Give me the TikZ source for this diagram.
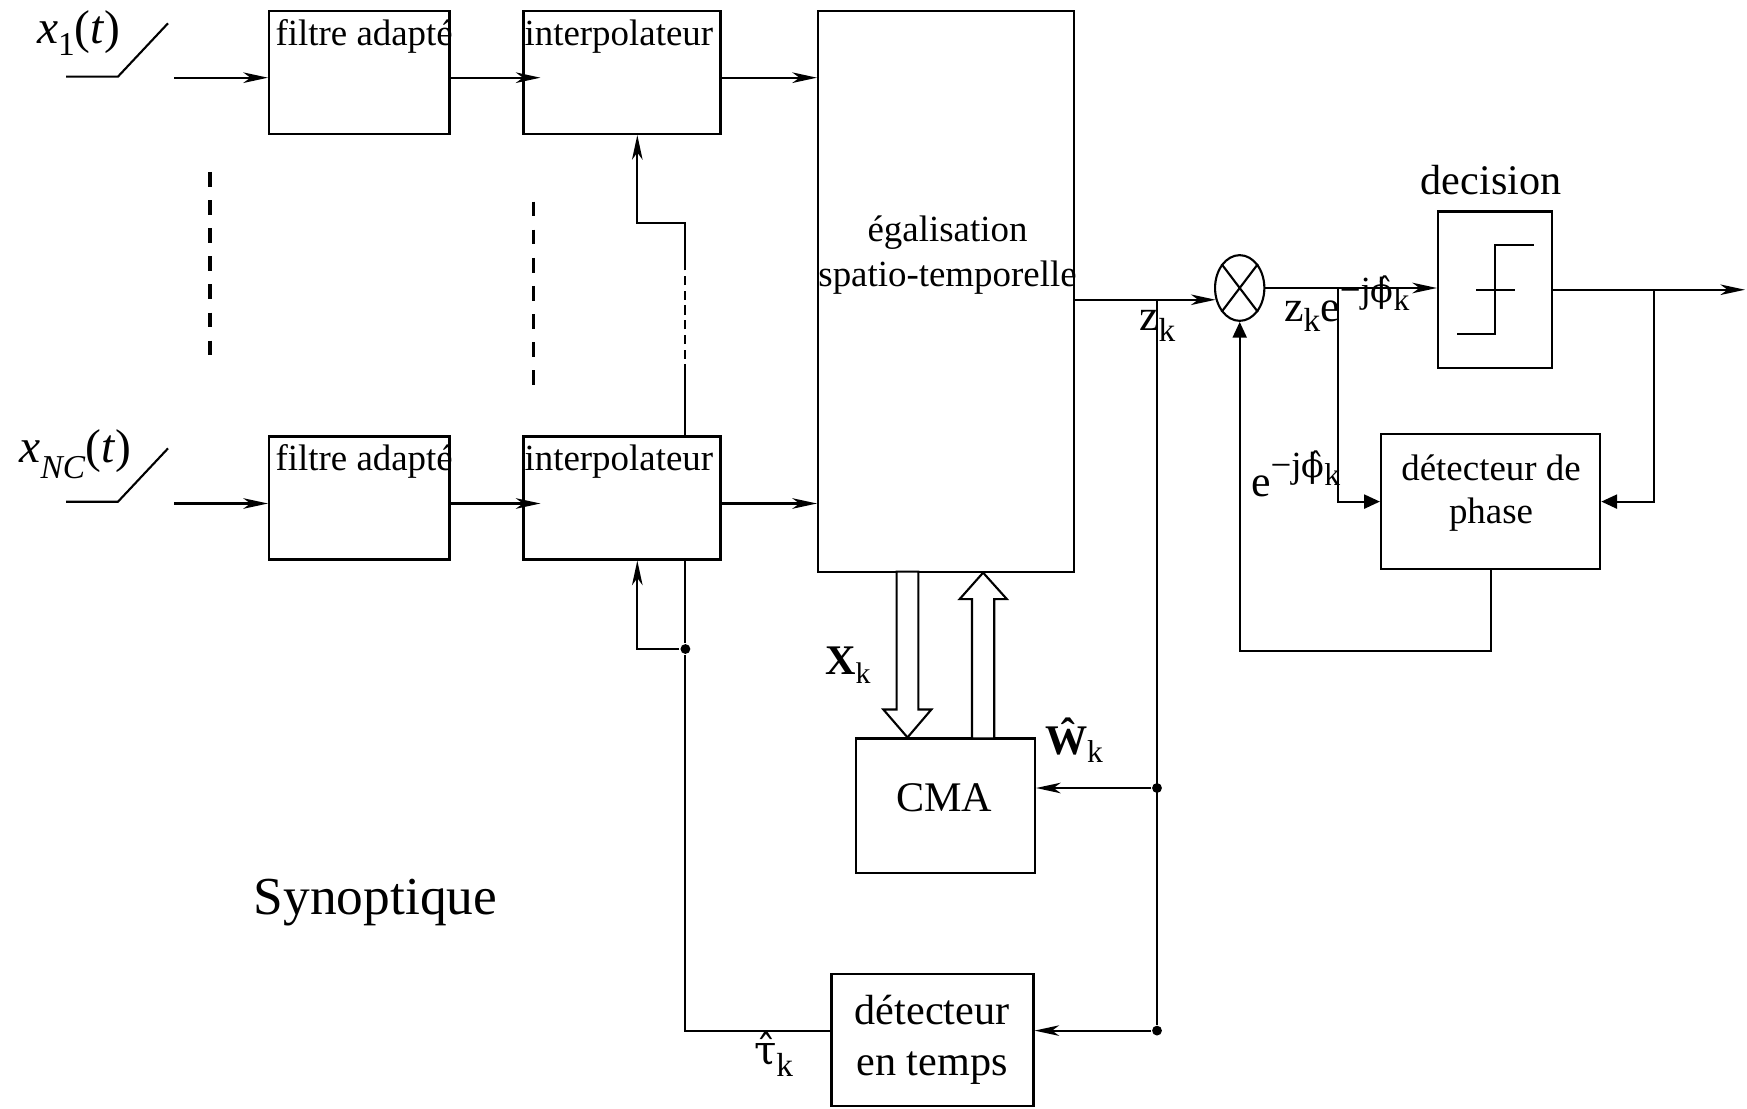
\documentclass[tikz,border=0pt]{standalone}
\usepackage{fontspec}
\setmainfont{Liberation Serif}
\newfontfamily\grk{DejaVu Serif}
\usepackage{tikz}
\usetikzlibrary{
	arrows.meta,
	calc,
	positioning,
	shapes.geometric
}
\newcommand{\indk}[1]{\raisebox{#1}{\fontsize{9.5}{10}\selectfont k}}
\newcommand{\phase}{\raisebox{5.4pt}{\fontsize{10.5}{11}\selectfont −j{\grk\fontsize{9.5}{10}\selectfont\^{ϕ}}\raisebox{-2.2pt}{\fontsize{9}{10}\selectfont k}}}
\tikzset{
	box/.style={draw, inner sep=0pt},
	txt/.style={inner sep=0pt, font=\fontsize{10.5}{12.6}\selectfont},
	bigtxt/.style={inner sep=0pt, font=\fontsize{12}{14.4}\selectfont},
	sym/.style={inner sep=0pt, font=\fontsize{12.5}{15}\selectfont},
	arr/.style={-{Stealth[length=7pt,width=3pt,inset=2pt]}},
	tri/.style={-{Triangle[length=4.5pt,width=4pt]}},
	dot/.style={circle, fill, inner sep=0pt, minimum size=2.8pt},
	bigdash/.style={line width=1.1pt, dash pattern=on 4.2pt off 3.8pt},
	smalldash/.style={dash pattern=on 2.6pt off 1.6pt}
}

\begin{document}
\begin{tikzpicture}[line width=0.6pt]
			\useasboundingbox (0,0) rectangle (17.47,-11.09);

			\node[box, minimum width=1.805cm, minimum height=1.23cm] (fa1) at (3.5925,-0.725) {};
			\node[box, minimum width=1.805cm, minimum height=1.23cm] (fa2) at (3.5925,-4.98) {};
			\node[box, minimum width=1.97cm, minimum height=1.23cm] (ip1) at (6.22,-0.725) {};
			\node[box, minimum width=1.97cm, minimum height=1.23cm] (ip2) at (6.22,-4.98) {};
			\node[box, minimum width=2.56cm, minimum height=5.606cm] (eg) at (9.46,-2.913) {};
			\node[box, minimum width=1.794cm, minimum height=1.345cm] (cma) at (9.453,-8.0575) {};
			\node[box, minimum width=2.02cm, minimum height=1.324cm] (dt) at (9.325,-10.398) {};
			\node[box, minimum width=1.14cm, minimum height=1.565cm] (dec) at (14.95,-2.8975) {};
			\node[box, minimum width=2.193cm, minimum height=1.347cm] (dp) at (14.906,-5.016) {};
			\node[box, ellipse, minimum width=0.493cm, minimum height=0.657cm] (mult) at (12.397,-2.88) {};
			\draw (mult.north west) -- (mult.south east) (mult.north east) -- (mult.south west);

			\node[txt, anchor=base west] (fa1t) at (2.745,-0.451) {filtre adapté};
			\node[txt, anchor=base west] (fa2t) at (2.745,-4.706) {filtre adapté};
			\node[txt, anchor=base west] (ip1t) at (5.235,-0.451) {interpolateur};
			\node[txt, anchor=base west] (ip2t) at (5.235,-4.706) {interpolateur};
			\node[txt, anchor=base] (egt1) at (9.475,-2.42) {égalisation};
			\node[txt, anchor=base] (egt2) at (9.475,-2.867) {spatio-temporelle};
			\node[txt, anchor=base] (dpt1) at (14.91,-4.803) {détecteur de};
			\node[txt, anchor=base] (dpt2) at (14.91,-5.234) {phase};
			\node[bigtxt, anchor=base] (cmat) at (9.444,-8.114) {CMA};
			\node[bigtxt, anchor=base] (dtt1) at (9.32,-10.244) {détecteur};
			\node[bigtxt, anchor=base] (dtt2) at (9.32,-10.75) {en temps};
			\node[bigtxt, anchor=base] (dect) at (14.91,-1.947) {decision};
			\node[inner sep=0pt, anchor=base west, font=\fontsize{15.2}{18}\selectfont] (syn) at (2.527,-9.143) {Synoptique};

			\node[inner sep=0pt, anchor=base west, font=\fontsize{13.5}{16}\selectfont] (x1) at (0.36,-0.44) {\textit{x}\raisebox{-3.3pt}{\fontsize{9.5}{10}\selectfont 1}(\textit{t})};
			\node[inner sep=0pt, anchor=base west, font=\fontsize{13.5}{16}\selectfont] (xnc) at (0.185,-4.624) {\textit{x}\raisebox{-4.7pt}{\fontsize{9.5}{10}\selectfont\textit{NC}}(\textit{t})};
			\node[sym, anchor=base west] (zk) at (11.38,-3.308) {z\indk{-3.1pt}};
			\node[sym, anchor=base west] (zke) at (12.83,-3.217) {z\indk{-2.8pt}e\phase};
			\node[sym, anchor=base west] (ephi) at (12.50,-4.967) {e\phase};
			\node[bigtxt, anchor=base west] (xk) at (8.24,-6.74) {\textbf{X}\raisebox{-2.6pt}{\fontsize{8.5}{9}\selectfont k}};
			\node[bigtxt, anchor=base west] (wk) at (10.44,-7.54) {\textbf{Ŵ}\raisebox{-2.3pt}{\fontsize{9}{10}\selectfont k}};
			\node[sym, anchor=base west] (tauk) at (7.53,-10.64) {{\grk\fontsize{11.5}{14}\selectfont\^{τ}}\indk{-3.5pt}};

			\draw (0.66,-0.766) -- (1.18,-0.766) -- (1.68,-0.233);
			\draw (0.66,-5.017) -- (1.18,-5.017) -- (1.68,-4.484);
			\coordinate (in1) at (1.74,-0.777);
			\coordinate (in2) at (1.74,-5.035);
			\draw[arr] (in1) -- (in1 -| fa1.west);
			\draw[arr] (in2) -- (in2 -| fa2.west);
			\draw[arr] (in1 -| fa1.east) -- ($(in1 -| ip1.west)+(0.18,0)$);
			\draw[arr] (in2 -| fa2.east) -- ($(in2 -| ip2.west)+(0.18,0)$);
			\draw[arr] (in1 -| ip1.east) -- (in1 -| eg.west);
			\draw[arr] (in2 -| ip2.east) -- (in2 -| eg.west);

			\draw[bigdash] (2.10,-1.72) -- (2.10,-3.56);
			\draw[bigdash] (5.335,-2.016) -- (5.335,-3.855);

			\coordinate (up1) at (6.854,-3.736);
			\coordinate (up2) at (6.854,-2.68);
			\coordinate (up3) at (6.854,-2.23);
			\coordinate (up4) at (6.373,-2.23);
			\draw (ip2.north -| up1) -- (up1);
			\draw[smalldash] (up1) -- (up2);
			\draw[arr] (up2) -- (up3) -- (up4) -- (up4 |- ip1.south);

			\node[dot] (dtau) at (6.854,-6.49) {};
			\node[dot] (dcma) at (11.57,-7.88) {};
			\node[dot] (dtin) at (11.57,-10.306) {};
			\draw (ip2.south -| dtau) -- (dtau) -- (dtau |- dtin) -- (dtin -| dt.west);
			\draw[arr] (dtau) -- (dtau -| up4) -- (up4 |- ip2.south);

			\draw[arr] (eg.east |- mult.206) -- (mult.206);
			\draw (mult.206 -| dtin) -- (dtin);
			\draw[arr] (dcma) -- (dcma -| cma.east);
			\draw[arr] (dtin) -- (dtin -| dt.east);

			\coordinate (xa) at (9.075,-5.716);
			\coordinate (wa) at (9.831,-7.385);
			\draw[fill=white] ($(xa)+(-0.109,0)$) -- ($(xa |- cma.north)+(-0.109,0.28)$) -- ($(xa |- cma.north)+(-0.242,0.28)$) -- (xa |- cma.north) -- ($(xa |- cma.north)+(0.239,0.28)$) -- ($(xa |- cma.north)+(0.109,0.28)$) -- ($(xa)+(0.109,0)$) -- cycle;
			\draw[fill=white] ($(wa)+(-0.111,0)$) -- ($(wa |- eg.south)+(-0.111,-0.264)$) -- ($(wa |- eg.south)+(-0.234,-0.264)$) -- (wa |- eg.south) -- ($(wa |- eg.south)+(0.237,-0.264)$) -- ($(wa |- eg.south)+(0.111,-0.264)$) -- ($(wa)+(0.111,0)$) -- cycle;

			\draw[arr] (mult.east) -- (mult.east -| dec.west);
			\coordinate (b1) at (13.378,-2.88);
			\draw[tri] (b1) |- (dp.west);
			\coordinate (sortie) at (17.45,-2.8975);
			\draw[arr] (dec.east) -- (sortie);
			\coordinate (b2) at (16.542,-2.8975);
			\draw[tri] (b2) |- (dp.east);
			\coordinate (b3) at (14.906,-6.51);
			\draw[tri] (dp.south) -- (b3) -| (mult.south);

			\begin{scope}[shift={(dec.center)}]
				\draw (-0.19,0) -- (0.195,0);
				\draw (-0.38,-0.445) -- (0,-0.445) -- (0,0.445) -- (0.386,0.445);
			\end{scope}
		\end{tikzpicture}
\end{document}
